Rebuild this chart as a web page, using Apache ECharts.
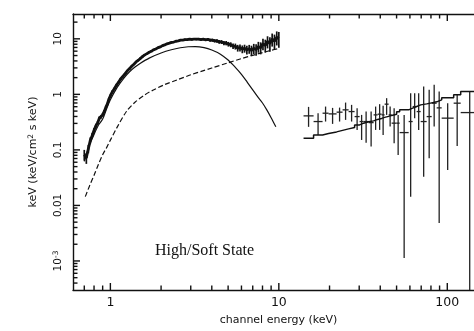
<!DOCTYPE html>
<html>
<head>
<meta charset="utf-8">
<script src="https://cdn.jsdelivr.net/npm/echarts@6/dist/echarts.min.js"></script>
<style>
  html, body { margin: 0; padding: 0; background: #fff; }
  #chart { width: 474px; height: 331px; }
</style>
</head>
<body>
<div id="chart"></div>
<script>
// ---- axis ticks -----------------------------------------------------------
const xMajor = [1, 10, 100];
const xMajorLabels = ['1', '10', '100'];
const xMinor = [0.7, 0.8, 0.9, 2, 3, 4, 5, 6, 7, 8, 9, 20, 30, 40, 50, 60, 70, 80, 90];
const yMajor = [0.001, 0.01, 0.1, 1, 10];
const yMajorLabels = ['10{s|-3}', '0.01', '0.1', '1', '10'];
const yMinor = [0.0004, 0.0005, 0.0006, 0.0007, 0.0008, 0.0009,
  0.002, 0.003, 0.004, 0.005, 0.006, 0.007, 0.008, 0.009,
  0.02, 0.03, 0.04, 0.05, 0.06, 0.07, 0.08, 0.09,
  0.2, 0.3, 0.4, 0.5, 0.6, 0.7, 0.8, 0.9,
  2, 3, 4, 5, 6, 7, 8, 9, 20];

// ---- soft-band spectrum (keV, keV^2 ph/cm^2/s/keV) -----------------------
const lowE = [0.70, 0.72, 0.74, 0.76, 0.78, 0.80, 0.82, 0.84, 0.86, 0.88,
  0.90, 0.92, 0.94, 0.96, 0.98, 1.00, 1.03, 1.06, 1.09, 1.12,
  1.15, 1.18, 1.21, 1.24, 1.27, 1.30, 1.34, 1.38, 1.42, 1.46,
  1.50, 1.55, 1.60, 1.65, 1.70, 1.75, 1.80, 1.86, 1.92, 1.98,
  2.04, 2.10, 2.17, 2.24, 2.31, 2.38, 2.45, 2.53, 2.61, 2.69,
  2.77, 2.86, 2.95, 3.04, 3.14, 3.24, 3.34, 3.45, 3.56, 3.67,
  3.79, 3.91, 4.03, 4.16, 4.29, 4.43, 4.57, 4.72, 4.87, 5.02,
  5.18, 5.35, 5.52, 5.70, 5.88, 6.07, 6.26, 6.46, 6.67, 6.88,
  7.10, 7.33, 7.56, 7.80, 8.05, 8.31, 8.57, 8.85, 9.13, 9.42,
  9.72, 10.0];
const lowF = [0.082, 0.072, 0.105, 0.148, 0.182, 0.226, 0.272, 0.305, 0.372, 0.392,
  0.430, 0.492, 0.588, 0.672, 0.826, 0.945, 1.13, 1.29, 1.49, 1.67,
  1.89, 2.04, 2.27, 2.43, 2.72, 2.88, 3.22, 3.48, 3.83, 4.08,
  4.42, 4.78, 5.14, 5.42, 5.74, 5.97, 6.34, 6.57, 6.94, 7.16,
  7.54, 7.76, 8.14, 8.37, 8.64, 8.76, 9.05, 9.16, 9.45, 9.47,
  9.66, 9.64, 9.86, 9.74, 9.92, 9.84, 9.91, 9.72, 9.86, 9.62,
  9.74, 9.48, 9.46, 9.22, 9.18, 8.82, 8.78, 8.41, 8.38, 8.02,
  7.86, 7.38, 7.31, 6.84, 6.92, 6.55, 6.74, 6.35, 6.58, 6.22,
  6.71, 6.45, 7.22, 6.95, 8.12, 7.65, 8.92, 8.28, 9.85, 9.12,
  10.6, 10.1];
const lowErr = [0.018, 0.016, 0.018, 0.020, 0.020, 0.022, 0.024, 0.026, 0.030, 0.030,
  0.030, 0.032, 0.034, 0.036, 0.040, 0.045, 0.050, 0.055, 0.060, 0.065,
  0.07, 0.07, 0.08, 0.08, 0.09, 0.09, 0.10, 0.11, 0.12, 0.12,
  0.13, 0.14, 0.15, 0.16, 0.17, 0.18, 0.19, 0.20, 0.21, 0.22,
  0.23, 0.24, 0.25, 0.26, 0.27, 0.28, 0.30, 0.30, 0.32, 0.33,
  0.35, 0.36, 0.38, 0.40, 0.42, 0.44, 0.46, 0.48, 0.50, 0.52,
  0.55, 0.58, 0.60, 0.62, 0.65, 0.68, 0.70, 0.72, 0.75, 0.78,
  0.80, 0.85, 0.90, 0.95, 1.00, 1.05, 1.10, 1.15, 1.20, 1.30,
  1.40, 1.50, 1.60, 1.70, 1.90, 2.00, 2.20, 2.40, 2.60, 2.80,
  3.00, 3.20];

// disk blackbody component
const diskE = [0.70, 0.75, 0.80, 0.85, 0.90, 0.95, 1.0, 1.1, 1.2, 1.3, 1.4, 1.5, 1.7, 2.0,
  2.3, 2.6, 2.9, 3.2, 3.6, 4.0, 4.5, 5.0, 5.5, 6.0, 6.5, 7.0, 7.5, 8.0, 8.5, 9.0, 9.6];
const diskF = [0.062, 0.12, 0.19, 0.28, 0.36, 0.55, 0.80, 1.35, 1.95, 2.55, 3.1, 3.6, 4.5, 5.55,
  6.35, 6.9, 7.2, 7.25, 6.95, 6.3, 5.3, 4.15, 3.1, 2.3, 1.65, 1.2, 0.9, 0.7, 0.52, 0.38, 0.26];

// power-law component
const plE = [0.71, 0.75, 0.80, 0.85, 0.90, 0.95, 1.0, 1.1, 1.25, 1.4, 1.6, 1.8, 2.1, 2.5,
  3.0, 3.5, 4.0, 5.0, 6.0, 7.0, 8.0, 9.0, 10.0];
const plF = [0.0144, 0.022, 0.035, 0.055, 0.082, 0.11, 0.15, 0.26, 0.50, 0.72, 0.98, 1.2, 1.5, 1.83,
  2.25, 2.62, 2.98, 3.7, 4.4, 5.05, 5.65, 6.2, 6.7];

// ---- hard-band spectrum: bin edges, flux, error limits, model ------------
const hiEdges = [14.02, 16.08, 18.18, 19.74, 22.02, 23.90, 25.95, 28.17, 30.17, 31.86,
  34.12, 36.53, 38.59, 40.76, 42.46, 44.85, 46.73, 50.04, 52.14, 58.97,
  62.30, 65.79, 69.50, 75.44, 80.78, 86.49, 92.62, 109.1, 120.1, 153.7];
const hiF = [0.410, 0.324, 0.458, 0.445, 0.478, 0.526, 0.490, 0.398, 0.324, 0.324,
  0.310, 0.427, 0.440, 0.427, 0.666, 0.427, 0.303, 0.303, 0.205, 0.324,
  0.603, 0.490, 0.324, 0.398, 0.694, 0.571, 0.373, 0.694, 0.470];
const hiUp = [0.595, 0.458, 0.603, 0.571, 0.578, 0.712, 0.647, 0.564, 0.427, 0.490,
  0.490, 0.603, 0.666, 0.621, 0.854, 0.603, 0.564, 0.427, 0.427, 1.051,
  1.051, 1.051, 1.382, 1.205, 1.483, 1.123, 0.694, 0.980, 1.123];
const hiDown = [0.260, 0.186, 0.324, 0.294, 0.324, 0.347, 0.324, 0.229, 0.151, 0.135,
  0.115, 0.229, 0.229, 0.186, 0.427, 0.263, 0.132, 0.0813, 0.00113, 0.0144,
  0.372, 0.229, 0.0330, 0.0709, 0.263, 0.00484, 0.0436, 0.118, 0.0002];
const hiModel = [0.1625, 0.186, 0.198, 0.211, 0.2245, 0.239, 0.254, 0.282, 0.303, 0.320,
  0.333, 0.354, 0.369, 0.385, 0.4015, 0.418, 0.440, 0.484, 0.526, 0.564,
  0.603, 0.647, 0.674, 0.703, 0.733, 0.796, 0.865, 0.980, 1.123];

// ---- chart ---------------------------------------------------------------
const INK = '#111';
const SANS = 'DejaVu Sans';
const X_MIN = 0.6, X_MAX = 200, Y_MIN = 0.0003, Y_MAX = 28;
const MAJOR_LEN = 7, MINOR_LEN = 4.5;

const chart = echarts.init(document.getElementById('chart'), null, { renderer: 'canvas' });

// each soft channel: energy, flux error limits, neighbouring bin edges, flux
const lowErrData = lowE.map((e, i) => {
  const prev = i > 0 ? Math.sqrt(lowE[i - 1] * e) : e;
  const next = i < lowE.length - 1 ? Math.sqrt(lowE[i + 1] * e) : e;
  return [e, lowF[i] - lowErr[i], lowF[i] + lowErr[i], prev, next, lowF[i]];
});
const hiData = hiF.map((f, i) => [hiEdges[i], hiEdges[i + 1], f, hiDown[i], hiUp[i]]);
const modelSteps = [];
hiModel.forEach((m, i) => { modelSteps.push([hiEdges[i], m], [hiEdges[i + 1], m]); });

// inward tick marks on the bottom/top (energy) and left (flux) frame edges
const xTickData = xMajor.map(v => [v, Y_MAX, MAJOR_LEN]).concat(xMinor.map(v => [v, Y_MAX, MINOR_LEN]));
const yTickData = yMajor.map(v => [X_MIN, v, MAJOR_LEN]).concat(yMinor.map(v => [X_MIN, v, MINOR_LEN]));

const tickStyle = { stroke: INK, lineWidth: 1.4 };

chart.setOption({
  animation: false,
  backgroundColor: '#fff',
  // the frame runs on past the right edge of the canvas (x up to 200 keV)
  grid: { left: 73, top: 14, width: 425, height: 276, containLabel: false, outerBoundsMode: 'none' },
  xAxis: [
    {
      type: 'log', logBase: 10, min: X_MIN, max: X_MAX, position: 'bottom',
      axisLine: { show: true, onZero: false, lineStyle: { color: INK, width: 1.4 } },
      axisTick: { show: false },
      axisLabel: {
        customValues: xMajor,
        formatter: v => xMajorLabels[xMajor.findIndex(t => Math.abs(t - v) < t * 1e-6)] || '',
        fontFamily: SANS, fontSize: 12.5, color: INK, margin: 6
      },
      splitLine: { show: false },
      name: 'channel energy (keV)',
      nameLocation: 'middle', nameGap: 25,
      nameTextStyle: { fontFamily: SANS, fontSize: 11, color: INK, padding: [0, 14, 0, 0] }
    },
    {
      type: 'log', logBase: 10, min: X_MIN, max: X_MAX, position: 'top',
      axisLine: { show: true, onZero: false, lineStyle: { color: INK, width: 1.4 } },
      axisTick: { show: false }, axisLabel: { show: false }, splitLine: { show: false }
    }
  ],
  yAxis: [
    {
      type: 'log', logBase: 10, min: Y_MIN, max: Y_MAX, position: 'left',
      axisLine: { show: true, onZero: false, lineStyle: { color: INK, width: 1.4 } },
      axisTick: { show: false },
      axisLabel: {
        customValues: yMajor,
        rotate: 90,
        formatter: v => yMajorLabels[yMajor.findIndex(t => Math.abs(t - v) < t * 1e-6)] || '',
        fontFamily: SANS, fontSize: 10.5, color: INK, margin: 9,
        rich: { s: { fontFamily: SANS, fontSize: 7.5, color: INK, verticalAlign: 'top', padding: [0, 0, 4, 0] } }
      },
      splitLine: { show: false },
      name: 'keV (keV/cm{s|2} s keV)',
      nameLocation: 'middle', nameGap: 33,
      nameTextStyle: { fontFamily: SANS, fontSize: 11, color: INK,
        rich: { s: { fontFamily: SANS, fontSize: 7.5, color: INK, verticalAlign: 'top', padding: [0, 0, 5, 0] } } }
    }
  ],
  graphic: [{
    type: 'text', left: 155, top: 243, silent: true,
    style: { text: 'High/Soft State', font: '16px "Liberation Serif"', fill: INK }
  }],
  series: [
    {
      name: 'energy ticks', type: 'custom', xAxisIndex: 0, yAxisIndex: 0, clip: false,
      data: xTickData, encode: { x: 0, y: 1 }, silent: true,
      renderItem: (params, api) => {
        const b = api.coord([api.value(0), Y_MIN]);
        const t = api.coord([api.value(0), Y_MAX]);
        const len = api.value(2);
        return { type: 'group', children: [
          { type: 'line', shape: { x1: b[0], y1: b[1], x2: b[0], y2: b[1] - len }, style: tickStyle },
          { type: 'line', shape: { x1: t[0], y1: t[1], x2: t[0], y2: t[1] + len }, style: tickStyle }
        ] };
      }
    },
    {
      name: 'flux ticks', type: 'custom', xAxisIndex: 0, yAxisIndex: 0, clip: false,
      data: yTickData, encode: { x: 0, y: 1 }, silent: true,
      renderItem: (params, api) => {
        const p = api.coord([X_MIN, api.value(1)]);
        const len = api.value(2);
        return { type: 'line', shape: { x1: p[0], y1: p[1], x2: p[0] + len, y2: p[1] }, style: tickStyle };
      }
    },
    {
      name: 'power law', type: 'line', xAxisIndex: 0, yAxisIndex: 0,
      data: plE.map((e, i) => [e, plF[i]]), symbol: 'none', smooth: 0.3,
      lineStyle: { color: INK, width: 1.2, type: [5, 2.5] }
    },
    {
      name: 'disk', type: 'line', xAxisIndex: 0, yAxisIndex: 0,
      data: diskE.map((e, i) => [e, diskF[i]]), symbol: 'none', smooth: 0.3,
      lineStyle: { color: INK, width: 1.2 }
    },
    {
      name: 'soft data', type: 'line', xAxisIndex: 0, yAxisIndex: 0,
      data: lowE.map((e, i) => [e, lowF[i]]), symbol: 'none',
      lineStyle: { color: INK, width: 2.8 }
    },
    {
      name: 'soft errors', type: 'custom', xAxisIndex: 0, yAxisIndex: 0, clip: true,
      data: lowErrData, encode: { x: 0, y: [1, 2] },
      renderItem: (params, api) => {
        const a = api.coord([api.value(0), api.value(1)]);
        const b = api.coord([api.value(0), api.value(2)]);
        const l = api.coord([api.value(3), api.value(5)]);
        const r = api.coord([api.value(4), api.value(5)]);
        const st = { stroke: INK, lineWidth: 1.7 };
        return { type: 'group', children: [
          { type: 'line', shape: { x1: a[0], y1: a[1], x2: b[0], y2: b[1] }, style: st },
          { type: 'line', shape: { x1: l[0], y1: l[1], x2: r[0], y2: r[1] }, style: st }
        ] };
      }
    },
    {
      name: 'hard model', type: 'line', xAxisIndex: 0, yAxisIndex: 0,
      data: modelSteps, symbol: 'none',
      lineStyle: { color: INK, width: 1.5 }
    },
    {
      name: 'hard data', type: 'custom', xAxisIndex: 0, yAxisIndex: 0, clip: true,
      data: hiData, encode: { x: [0, 1], y: [2, 3, 4] },
      renderItem: (params, api) => {
        const e0 = api.value(0), e1 = api.value(1), f = api.value(2);
        const ec = Math.sqrt(e0 * e1);
        const l = api.coord([e0, f]), r = api.coord([e1, f]);
        const t = api.coord([ec, api.value(4)]), d = api.coord([ec, api.value(3)]);
        const st = { stroke: '#222', lineWidth: 1.3 };
        return { type: 'group', children: [
          { type: 'line', shape: { x1: l[0], y1: l[1], x2: r[0], y2: r[1] }, style: st },
          { type: 'line', shape: { x1: t[0], y1: t[1], x2: d[0], y2: d[1] }, style: st }
        ] };
      }
    }
  ]
});
</script>
</body>
</html>
